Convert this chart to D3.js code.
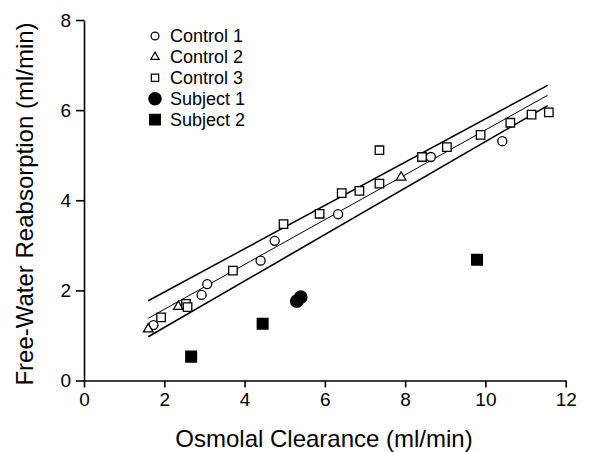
<!DOCTYPE html>
<html><head><meta charset="utf-8">
<script src="https://cdn.jsdelivr.net/npm/d3@7"></script>
<style>body{margin:0;background:#fff}svg{display:block}text{font-family:"Liberation Sans",Arial,Helvetica,sans-serif;fill:#000}</style>
</head><body>
<svg id="c" width="610" height="452"></svg>
<script>
const xTicks = [0, 2, 4, 6, 8, 10, 12];
const yTicks = [0, 2, 4, 6, 8];
const seriesNames = ["Control 1", "Control 2", "Control 3", "Subject 1", "Subject 2"];
const control1 = [[1.73,1.23],[2.93,1.9],[3.07,2.14],[4.4,2.66],[4.75,3.1],[6.33,3.69],[8.64,4.96],[10.42,5.31]];
const control2 = [[1.6,1.14],[2.35,1.64],[7.9,4.51]];
const control3 = [[1.92,1.4],[2.54,1.7],[2.58,1.63],[3.71,2.44],[4.97,3.47],[5.87,3.7],[6.42,4.16],[6.86,4.21],[7.36,5.11],[7.36,4.37],[8.42,4.96],[9.04,5.18],[9.88,5.45],[10.62,5.72],[11.15,5.9],[11.58,5.95]];
const subject1 = [[5.3,1.76],[5.4,1.85]];
const subject2 = [[2.67,0.53],[4.45,1.26],[9.79,2.68]];
const lineX = [1.6, 11.55];
const upperBand = [1.77, 6.55];
const fitLine = [1.38, 6.33];
const lowerBand = [0.97, 6.1];

const svg = d3.select("#c");
const x = d3.scaleLinear().domain([0,12]).range([84,565.7]);
const y = d3.scaleLinear().domain([0,8]).range([380.5,20]);

const xa = svg.append("g").attr("transform","translate(0,380.5)")
  .call(d3.axisBottom(x).tickValues(xTicks).tickSize(7).tickSizeOuter(0).tickPadding(5));
const ya = svg.append("g").attr("transform","translate(84,0)")
  .call(d3.axisLeft(y).tickValues(yTicks).tickSize(8).tickSizeOuter(0).tickPadding(5));
[xa,ya].forEach(a=>{
  a.selectAll("path,line").attr("stroke","#000").attr("stroke-width",1.6);
  a.selectAll("text").attr("font-size",19).attr("font-family","Liberation Sans, Arial, sans-serif");
});

svg.append("text").attr("x",324).attr("y",446.5).attr("text-anchor","middle").attr("font-size",24).text("Osmolal Clearance (ml/min)");
svg.append("text").attr("transform","translate(33,204) rotate(-90)").attr("text-anchor","middle").attr("font-size",24).text("Free-Water Reabsorption (ml/min)");

// regression lines
[[upperBand,1.5],[fitLine,1],[lowerBand,1.6]].forEach(([vals,w])=>{
  svg.append("line").attr("x1",x(lineX[0])).attr("x2",x(lineX[1]))
    .attr("y1",y(vals[0])).attr("y2",y(vals[1])).attr("stroke","#000").attr("stroke-width",w);
});

const sym = {
  "Control 1": {t:d3.symbolCircle, s:64, fill:"#fff"},
  "Control 2": {t:d3.symbolTriangle, s:40, fill:"#fff"},
  "Control 3": {t:d3.symbolSquare, s:72, fill:"#fff"},
  "Subject 1": {t:d3.symbolCircle, s:120, fill:"#000"},
  "Subject 2": {t:d3.symbolSquare, s:115, fill:"#000"}
};
const dataMap = {"Control 1":control1,"Control 2":control2,"Control 3":control3,"Subject 1":subject1,"Subject 2":subject2};
seriesNames.forEach(n=>{
  const sp = sym[n];
  svg.append("g").selectAll("path").data(dataMap[n]).join("path")
    .attr("transform",d=>`translate(${x(d[0])},${y(d[1])})`)
    .attr("d",d3.symbol().type(sp.t).size(sp.s))
    .attr("fill",sp.fill).attr("stroke","#000").attr("stroke-width",1.3);
});

// legend
const lg = svg.append("g");
seriesNames.forEach((n,i)=>{
  const sp = sym[n];
  const cy = 36 + i*20.9;
  lg.append("path").attr("transform",`translate(155,${cy})`)
    .attr("d",d3.symbol().type(sp.t).size(n.startsWith("Subject")?sp.s:sp.s*0.75))
    .attr("fill",sp.fill).attr("stroke","#000").attr("stroke-width",1.2);
  lg.append("text").attr("x",170).attr("y",cy).attr("dy","0.36em").attr("font-size",18).text(n);
});
</script>
</body></html>
